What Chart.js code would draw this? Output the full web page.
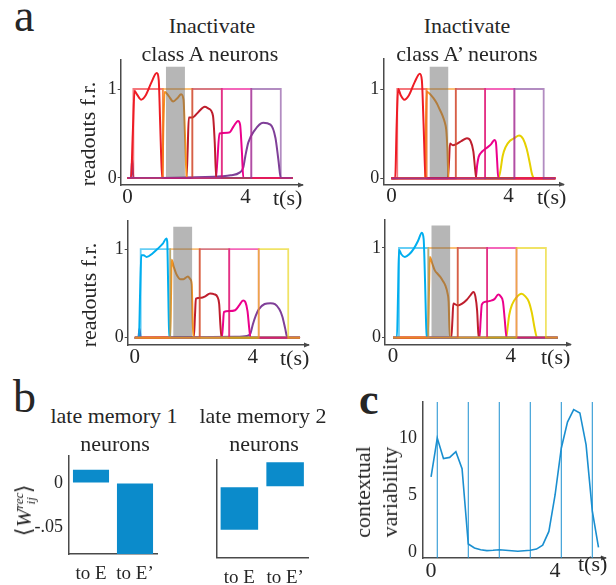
<!DOCTYPE html>
<html>
<head>
<meta charset="utf-8">
<title>Readouts under inactivation</title>
<script src="https://cdn.jsdelivr.net/npm/chart.js@4.4.1/dist/chart.umd.min.js"></script>
<style>
  html, body { margin: 0; padding: 0; background: #fff; }
  body { position: relative; width: 616px; height: 585px; overflow: hidden;
         font-family: "Liberation Serif", "Times New Roman", serif; color: #262626; }
  .t { position: absolute; white-space: nowrap; line-height: 1; }
  .rot { position: absolute; white-space: nowrap; text-align: center;
         transform: translate(-50%, -50%) rotate(-90deg); }
  canvas { position: absolute; }
</style>
</head>
<body>
<script>
// ---- data ----
const pulseStarts = [0.2, 1.2, 2.2, 3.2, 4.2];
const pulseLen = 1;
const pulseHigh = 1;
const tEnd = 5.6;
const silenceWin = [1.3, 1.95];
const silenceTop = 1.25;

const aXTicks = [0, 4];
const aYTicks = [0, 1];

// [t, readout] knots, panel a top left (class A silenced)
const a1Red     = [[0,0],[0.12,0],[0.18,0.5],[0.24,0.98],[0.32,0.94],[0.46,0.88],[0.62,0.93],[0.82,1.08],[0.99,1.18],[1.06,1.1],[1.11,0.6],[1.16,0.1],[1.2,0],[5.6,0]];
const a1Orange  = [[0,0],[1.18,0],[1.22,0.6],[1.26,0.97],[1.4,0.92],[1.55,0.86],[1.7,0.9],[1.82,0.94],[1.9,0.88],[1.96,0.4],[2.01,0],[5.6,0]];
const a1Crimson = [[0,0],[2.0,0],[2.04,0.3],[2.08,0.68],[2.2,0.68],[2.4,0.74],[2.62,0.8],[2.75,0.78],[2.9,0.7],[2.96,0.4],[3.01,0],[5.6,0]];
const a1Pink    = [[0,0],[3.0,0],[3.05,0.2],[3.12,0.5],[3.45,0.51],[3.6,0.58],[3.75,0.64],[3.82,0.6],[3.88,0.3],[3.93,0],[5.6,0]];
const a1Purple  = [[0,0],[0.12,0],[0.16,0.22],[0.2,0],[3.2,0.02],[3.5,0.03],[3.8,0.06],[3.93,0.12],[4.0,0.25],[4.1,0.4],[4.3,0.53],[4.6,0.62],[4.85,0.6],[5.02,0.45],[5.12,0.2],[5.2,0],[5.6,0]];

// panel a top right (class A' silenced)
const a2Red     = [[0,0],[0.13,0],[0.18,0.6],[0.23,1.0],[0.32,0.93],[0.44,0.88],[0.6,0.93],[0.8,1.08],[0.97,1.17],[1.04,1.1],[1.1,0.6],[1.15,0.1],[1.2,0],[5.6,0]];
const a2Orange  = [[0,0],[1.15,0],[1.18,0.6],[1.21,0.97],[1.3,0.95],[1.43,0.9],[1.55,0.84],[1.65,0.77],[1.75,0.7],[1.82,0.63],[1.87,0.55],[1.91,0.35],[1.95,0],[5.6,0]];
const a2Crimson = [[0,0],[1.93,0],[1.97,0.2],[2.0,0.39],[2.1,0.37],[2.2,0.38],[2.4,0.42],[2.58,0.45],[2.7,0.42],[2.8,0.3],[2.86,0.1],[2.9,0],[5.6,0]];
const a2Pink    = [[0,0],[2.88,0],[2.93,0.15],[2.98,0.24],[3.1,0.3],[3.25,0.34],[3.4,0.38],[3.52,0.43],[3.57,0.4],[3.61,0.2],[3.65,0],[5.6,0]];
const a2Yellow  = [[0,0],[3.65,0],[3.72,0.08],[3.8,0.25],[3.9,0.35],[4.05,0.42],[4.2,0.45],[4.36,0.48],[4.5,0.44],[4.62,0.33],[4.72,0.18],[4.8,0.05],[4.88,0],[5.6,0]];

// panel a bottom left (class A silenced, other context)
const a3Blue    = [[0,0],[0.14,0],[0.18,0.5],[0.22,0.93],[0.3,0.93],[0.4,0.91],[0.6,0.95],[0.8,1.01],[0.95,1.06],[1.07,1.12],[1.1,1.08],[1.13,0.6],[1.16,0.1],[1.2,0],[5.6,0]];
const a3Orange  = [[0,0],[1.2,0],[1.23,0.5],[1.25,0.88],[1.32,0.8],[1.42,0.71],[1.55,0.66],[1.65,0.66],[1.8,0.69],[1.88,0.66],[1.93,0.6],[1.96,0.2],[1.99,0],[5.6,0]];
const a3Crimson = [[0,0],[2.0,0],[2.04,0.25],[2.07,0.44],[2.25,0.45],[2.4,0.47],[2.55,0.5],[2.7,0.49],[2.8,0.46],[2.86,0.38],[2.9,0.15],[2.94,0],[5.6,0]];
const a3Pink    = [[0,0],[2.95,0],[2.99,0.15],[3.02,0.29],[3.2,0.3],[3.4,0.31],[3.55,0.37],[3.67,0.42],[3.75,0.4],[3.82,0.3],[3.88,0.1],[3.92,0],[5.6,0]];
const a3Purple  = [[0,0],[0.12,0],[0.16,0.1],[0.2,0],[3.4,0.01],[3.8,0.02],[3.92,0.05],[4.0,0.15],[4.1,0.25],[4.2,0.32],[4.4,0.38],[4.6,0.39],[4.75,0.38],[4.9,0.32],[5.0,0.24],[5.1,0.1],[5.17,0],[5.6,0]];

// panel a bottom right (class A' silenced, other context)
const a4Blue    = [[0,0],[0.13,0],[0.17,0.5],[0.2,0.98],[0.28,0.93],[0.4,0.9],[0.55,0.93],[0.7,0.99],[0.85,1.08],[0.98,1.17],[1.04,1.1],[1.09,0.6],[1.13,0.1],[1.17,0],[5.6,0]];
const a4Orange  = [[0,0],[1.18,0],[1.22,0.5],[1.25,0.9],[1.33,0.83],[1.42,0.75],[1.52,0.71],[1.6,0.68],[1.7,0.63],[1.78,0.58],[1.85,0.5],[1.89,0.4],[1.93,0],[5.6,0]];
const a4Crimson = [[0,0],[1.98,0],[2.02,0.2],[2.05,0.38],[2.2,0.36],[2.35,0.38],[2.5,0.42],[2.65,0.48],[2.73,0.51],[2.8,0.46],[2.86,0.3],[2.9,0.05],[2.93,0],[5.6,0]];
const a4Pink    = [[0,0],[2.94,0],[2.98,0.2],[3.02,0.37],[3.15,0.4],[3.3,0.41],[3.45,0.43],[3.58,0.48],[3.66,0.46],[3.74,0.4],[3.8,0.2],[3.86,0],[5.6,0]];
const a4Yellow  = [[0,0],[3.85,0],[3.9,0.12],[3.95,0.25],[4.05,0.37],[4.2,0.45],[4.37,0.49],[4.5,0.46],[4.62,0.4],[4.72,0.28],[4.82,0.1],[4.9,0],[5.6,0]];

// panel b
const bCats = ['to E', 'to E\u2019'];
const late1W = [0.015, -0.081];
const late2W = [-0.049, 0.028];
const bYTicks = [0, -0.05];
const bYLabels = ['0', '-.05'];

// panel c
const cTime = [0, 0.2, 0.4, 0.6, 0.8, 1.0, 1.2, 1.4, 1.6, 1.8, 2.0, 2.2, 2.4, 2.6, 2.8, 3.0, 3.2, 3.4, 3.6, 3.8, 4.0, 4.2, 4.4, 4.6, 4.8, 5.0, 5.2, 5.4];
const cVar  = [6.6, 10.0, 8.2, 8.3, 8.8, 7.3, 0.7, 0.35, 0.2, 0.12, 0.15, 0.2, 0.15, 0.1, 0.06, 0.1, 0.15, 0.25, 0.6, 1.8, 5.0, 9.1, 11.4, 12.5, 12.2, 9.4, 3.6, 0.4];
const cMarks = [0.2, 1.2, 2.2, 3.2, 4.2, 5.2];
const cXTicks = [0, 4];
const cYTicks = [0, 5, 10];
const cYRange = [-0.53, 13.16];

// ---- styles ----
const RED = '#ee1c25', ORANGE = '#f7941d', CRIMSON = '#be1e2d', PINK = '#ec008c',
      PURPLE = '#7f3f98', YELLOW = '#e6d000', BLUE = '#00aeef';
const barCol = '#0b8bcb', cCol = '#1a8fd0', axisCol = '#4a4a4a';

Chart.defaults.font.family = '"Liberation Serif", "Times New Roman", serif';
Chart.defaults.color = '#262626';

function fade(hex, a) {
  const n = parseInt(hex.slice(1), 16);
  return `rgba(${n >> 16},${(n >> 8) & 255},${n & 255},${a})`;
}

function label(html, x, base, size, center, bold) {
  const d = document.createElement('div');
  d.className = 't';
  d.innerHTML = html;
  d.style.fontSize = size + 'px';
  d.style.left = x + 'px';
  d.style.top = (base - 0.8375 * size) + 'px';
  if (center) d.style.transform = 'translateX(-50%)';
  if (bold) d.style.fontWeight = 'bold';
  document.body.appendChild(d);
}

function vlabel(html, cx, cy, size, lh) {
  const d = document.createElement('div');
  d.className = 'rot';
  d.innerHTML = html;
  d.style.left = cx + 'px';
  d.style.top = cy + 'px';
  d.style.fontSize = size + 'px';
  d.style.lineHeight = lh + 'px';
  document.body.appendChild(d);
}

// canvas whose chart area lands on box (page coords)
function place(box, ml, mb) {
  const left = Math.floor(box.L - ml), top = Math.floor(box.T - 6);
  const w = Math.ceil(box.R + 7) - left, h = Math.ceil(box.B + mb) - top;
  const cv = document.createElement('canvas');
  cv.width = w; cv.height = h;
  cv.style.left = left + 'px'; cv.style.top = top + 'px';
  cv.style.width = w + 'px'; cv.style.height = h + 'px';
  document.body.appendChild(cv);
  return {
    cv,
    yW: box.L - left,
    xH: top + h - box.B,
    pad: { left: 0, top: box.T - top, right: left + w - box.R, bottom: 0 }
  };
}

// keep the scales from pushing the chart area around for their edge labels
function fitY(p) {
  return s => { s.width = p.yW; s.paddingTop = 0; s.paddingBottom = 0; };
}
function fitX(p) {
  return s => { s.height = p.xH; s.paddingLeft = 0; s.paddingRight = 0; };
}

const arrowHead = {
  id: 'arrowHead',
  afterDraw(chart) {
    const a = chart.chartArea, ctx = chart.ctx;
    ctx.save();
    ctx.fillStyle = axisCol;
    ctx.beginPath();
    ctx.moveTo(a.right + 2, a.bottom);
    ctx.lineTo(a.right - 4, a.bottom - 2.5);
    ctx.lineTo(a.right - 4, a.bottom + 2.5);
    ctx.closePath();
    ctx.fill();
    ctx.restore();
  }
};

function axisBase(extra) {
  return Object.assign({
    grid: { display: true, drawOnChartArea: false, drawTicks: false, color: axisCol },
    border: { display: true, color: axisCol, width: 1.5 }
  }, extra);
}

function baseOptions(p, scales) {
  return {
    responsive: false, animation: false, events: [], devicePixelRatio: 1,
    layout: { padding: p.pad },
    plugins: { legend: { display: false }, tooltip: { enabled: false } },
    scales
  };
}

const pts = arr => arr.map(([x, y]) => ({ x, y }));

function panelA(box, xr, yr, curves, boxCols) {
  const p = place(box, 40, 30);
  // first dataset is drawn on top: grey window, then targets (last one on top), then readouts
  const datasets = [{
    data: silenceWin.map(t => ({ x: t, y: silenceTop })),
    borderWidth: 0, pointRadius: 0, fill: { value: 0.012 },
    backgroundColor: 'rgba(100,100,100,0.47)'
  }];
  pulseStarts.slice().reverse().forEach((s, k) => datasets.push({
    data: pts([[0, 0], [s, 0], [s, pulseHigh], [s + pulseLen, pulseHigh], [s + pulseLen, 0], [tEnd, 0]]),
    borderColor: fade(boxCols[pulseStarts.length - 1 - k], 0.6), borderWidth: 1.8,
    pointRadius: 0, tension: 0, fill: false
  }));
  curves.forEach(([arr, col]) => datasets.push({
    data: pts(arr), borderColor: col, borderWidth: 2, pointRadius: 0,
    cubicInterpolationMode: 'monotone', fill: false
  }));
  new Chart(p.cv, {
    type: 'line',
    data: { datasets },
    options: baseOptions(p, {
      x: axisBase({
        type: 'linear', min: xr[0], max: xr[1],
        afterBuildTicks: s => { s.ticks = aXTicks.map(v => ({ value: v })); },
        afterFit: fitX(p),
        ticks: { font: { size: 21 }, padding: 0, maxRotation: 0 }
      }),
      y: axisBase({
        min: yr[0], max: yr[1],
        afterBuildTicks: s => { s.ticks = aYTicks.map(v => ({ value: v })); },
        afterFit: fitY(p),
        grid: { display: true, drawOnChartArea: false, drawTicks: true, tickLength: 3, color: axisCol },
        ticks: { font: { size: 18 }, padding: 1 }
      })
    }),
    plugins: [arrowHead]
  });
}

function panelB(box, values, showY) {
  const p = place(box, showY ? 50 : 20, 585 - box.B);
  new Chart(p.cv, {
    type: 'bar',
    data: { labels: bCats, datasets: [{ data: values, backgroundColor: barCol, barPercentage: 0.82, categoryPercentage: 1 }] },
    options: baseOptions(p, {
      x: axisBase({
        afterFit: fitX(p),
        ticks: { font: { size: 19 }, padding: 9, maxRotation: 0 }
      }),
      y: axisBase({
        min: -0.0807, max: 0.0307,
        afterBuildTicks: s => { s.ticks = bYTicks.map(v => ({ value: v })); },
        afterFit: fitY(p),
        ticks: { font: { size: 18 }, padding: 6, callback: v => showY ? bYLabels[bYTicks.indexOf(v)] : '' }
      })
    })
  });
}

function panelC(box) {
  const p = place(box, 40, 27);
  const datasets = [{
    data: cTime.map((t, i) => ({ x: t, y: cVar[i] })),
    borderColor: cCol, borderWidth: 1.6, pointRadius: 0, tension: 0, fill: false
  }];
  cMarks.forEach(t => datasets.push({
    data: cYRange.map(y => ({ x: t, y })), borderColor: cCol, borderWidth: 1, pointRadius: 0, fill: false
  }));
  new Chart(p.cv, {
    type: 'line',
    data: { datasets },
    options: baseOptions(p, {
      x: axisBase({
        type: 'linear', min: -0.26, max: 5.61,
        afterBuildTicks: s => { s.ticks = cXTicks.map(v => ({ value: v })); },
        afterFit: fitX(p),
        ticks: { font: { size: 22 }, padding: 0, maxRotation: 0 }
      }),
      y: axisBase({
        min: cYRange[0], max: cYRange[1],
        afterBuildTicks: s => { s.ticks = cYTicks.map(v => ({ value: v })); },
        afterFit: fitY(p),
        ticks: { font: { size: 18 }, padding: 6 }
      })
    }),
    plugins: [arrowHead]
  });
}

// ---- panel a ----
panelA({ L: 120.7, T: 60, R: 302, B: 185 }, [-0.23, 5.92], [-0.079, 1.326],
  [[a1Red, RED], [a1Orange, ORANGE], [a1Crimson, CRIMSON], [a1Pink, PINK], [a1Purple, PURPLE]],
  [RED, ORANGE, CRIMSON, PINK, PURPLE]);
panelA({ L: 383.3, T: 59, R: 563, B: 184.3 }, [-0.276, 5.86], [-0.067, 1.336],
  [[a2Red, RED], [a2Orange, ORANGE], [a2Crimson, CRIMSON], [a2Pink, PINK], [a2Yellow, YELLOW]],
  [RED, ORANGE, CRIMSON, PINK, PURPLE]);
panelA({ L: 127.7, T: 221, R: 308, B: 345 }, [-0.24, 5.87], [-0.082, 1.316],
  [[a3Blue, BLUE], [a3Orange, ORANGE], [a3Crimson, CRIMSON], [a3Pink, PINK], [a3Purple, PURPLE]],
  [BLUE, ORANGE, CRIMSON, PINK, YELLOW]);
panelA({ L: 385, T: 219.3, R: 570, B: 344.3 }, [-0.275, 6.02], [-0.074, 1.32],
  [[a4Blue, BLUE], [a4Orange, ORANGE], [a4Crimson, CRIMSON], [a4Pink, PINK], [a4Yellow, YELLOW]],
  [BLUE, ORANGE, CRIMSON, PINK, YELLOW]);

// ---- panel b ----
panelB({ L: 69, T: 456, R: 157, B: 554 }, late1W, true);
panelB({ L: 216.5, T: 460, R: 308, B: 557.5 }, late2W, false);

// ---- panel c ----
panelC({ L: 423, T: 402, R: 605, B: 558 });

// ---- text ----
label('a', 14, 31.7, 46);
label('b', 13, 413, 46);
label('c', 359, 415, 44, false, true);

label('Inactivate', 212, 33, 22, true);
label('class A neurons', 210, 61.7, 22, true);
label('Inactivate', 467, 33, 22, true);
label('class A\u2019 neurons', 467, 61.7, 22, true);

label('t(s)', 273, 205, 22);
label('t(s)', 537, 204.3, 22);
label('t(s)', 280, 365, 22);
label('t(s)', 541, 364.3, 22);
label('t(s)', 578, 571.7, 22);

vlabel('readouts f.r.', 88, 133.5, 22, 22);
vlabel('readouts f.r.', 89, 295, 22, 22);

label('late memory 1', 114, 423, 22, true);
label('neurons', 115, 451.7, 22, true);
label('late memory 2', 263, 423, 22, true);
label('neurons', 264, 451.7, 22, true);

vlabel('\u27E8<i>W</i><span style="display:inline-flex;flex-direction:column;font-size:13px;line-height:12px;font-style:italic;vertical-align:8px"><span>rec</span><span>ij</span></span>\u27E9',
  25, 510, 22, 22);

vlabel('contextual<br>variability', 376, 492, 22, 27);
</script>
</body>
</html>
